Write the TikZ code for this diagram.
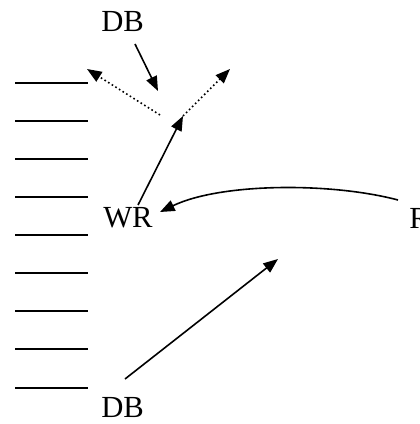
\documentclass[tikz,border=0pt]{standalone}
\usepackage{fontspec}
\setmainfont{Liberation Serif}
\usetikzlibrary{arrows.meta}
\begin{document}
\begin{tikzpicture}[x=0.75pt,y=-0.75pt,
  lbl/.style={inner sep=0pt,anchor=base west,font=\fontsize{23}{27}\selectfont},
  rung/.style={line width=1.8pt},
  arr/.style={line width=1.2pt,-{Triangle[length=11pt,width=8.5pt]}},
  dotarr/.style={line width=1.2pt,dotted,-{Triangle[length=11pt,width=8.5pt]}}]
  \useasboundingbox (0,0) rectangle (419,424);
  % ladder of short horizontal strokes
  \foreach \yy [count=\i] in {83,121,159,197,235,273,311,349,388}
    \draw[rung] (15,\yy) coordinate (r\i a) -- (88,\yy) coordinate (r\i b);
  % labels
  \node[lbl] (dbtop) at (101,32) {DB};
  \node[lbl] (wr) at (103,227) {WR};
  \node[lbl] (rr) at (409,228) {R};
  \node[lbl] (dbbot) at (101,417) {DB};
  % end points
  \coordinate (dbtail) at (135,44);
  \coordinate (dbhead) at (158,91);
  \coordinate (split) at (183,116);
  \coordinate (lsrc) at (160,115);
  \coordinate (ltip) at (87,69);
  \coordinate (rtip) at (230,69);
  \coordinate (wrtail) at (138,205);
  \coordinate (rrtail) at (398,200);
  \coordinate (wrhead) at (160,212);
  \coordinate (bottail) at (125,379);
  \coordinate (bothead) at (278,259);
  % arrows
  \draw[arr] (dbtail) -- (dbhead);
  \draw[dotarr] (lsrc) -- (ltip);
  \draw[dotarr] (split) -- (rtip);
  \draw[arr] (wrtail) -- (split);
  \draw[arr] (rrtail) .. controls (330,182) and (220,183) .. (wrhead);
  \draw[arr] (bottail) -- (bothead);
\end{tikzpicture}
\end{document}
